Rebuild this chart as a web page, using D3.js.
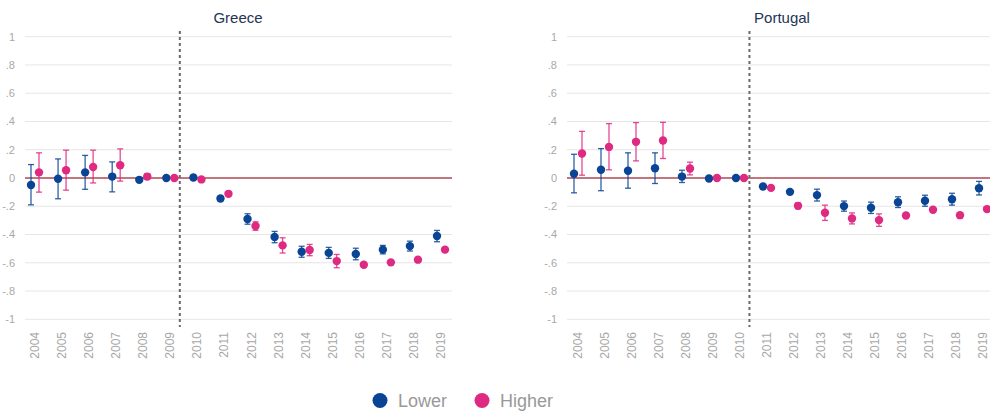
<!DOCTYPE html>
<html>
<head>
<meta charset="utf-8">
<script src="https://cdn.jsdelivr.net/npm/d3@7"></script>
<style>
  html, body { margin: 0; padding: 0; background: #fff; }
  svg { display: block; font-family: "Liberation Sans", Arial, sans-serif; }
</style>
</head>
<body>
<svg id="chart" width="990" height="415"></svg>
<script>
// Event-study estimates by year, with 95% confidence bounds
const years = [2004, 2005, 2006, 2007, 2008, 2009, 2010, 2011, 2012, 2013, 2014, 2015, 2016, 2017, 2018, 2019];
const yTicks = [1, 0.8, 0.6, 0.4, 0.2, 0, -0.2, -0.4, -0.6, -0.8, -1];
const yTickLabels = ["1", ".8", ".6", ".4", ".2", "0", "-.2", "-.4", "-.6", "-.8", "-1"];
const seriesNames = ["Lower", "Higher"];
const countries = ["Greece", "Portugal"];
const breakYears = [2009.35, 2010.35];

const greeceLower   = [-0.05, -0.005, 0.04, 0.01, -0.013, 0, 0.004, -0.145, -0.29, -0.418, -0.522, -0.53, -0.538, -0.507, -0.482, -0.411];
const greeceLowerLo = [-0.19, -0.147, -0.08, -0.098, -0.023, 0, -0.006, -0.16, -0.327, -0.458, -0.561, -0.569, -0.579, -0.537, -0.517, -0.451];
const greeceLowerHi = [0.095, 0.135, 0.16, 0.114, -0.003, 0, 0.014, -0.13, -0.253, -0.378, -0.483, -0.491, -0.497, -0.477, -0.447, -0.371];
const greeceHigher   = [0.04, 0.055, 0.078, 0.09, 0.01, 0, -0.01, -0.112, -0.34, -0.477, -0.51, -0.588, -0.614, -0.597, -0.578, -0.507];
const greeceHigherLo = [-0.10, -0.086, -0.035, -0.022, -0.01, 0, -0.015, -0.122, -0.37, -0.531, -0.55, -0.635, -0.629, -0.605, -0.586, -0.512];
const greeceHigherHi = [0.178, 0.197, 0.197, 0.206, 0.03, 0, -0.005, -0.102, -0.31, -0.423, -0.47, -0.541, -0.599, -0.589, -0.57, -0.502];

const portugalLower   = [0.03, 0.058, 0.051, 0.069, 0.01, -0.004, 0, -0.06, -0.098, -0.121, -0.199, -0.211, -0.171, -0.161, -0.15, -0.072];
const portugalLowerLo = [-0.105, -0.09, -0.072, -0.039, -0.032, -0.019, 0, -0.07, -0.113, -0.163, -0.235, -0.251, -0.209, -0.2, -0.192, -0.12];
const portugalLowerHi = [0.168, 0.208, 0.178, 0.178, 0.055, 0.011, 0, -0.05, -0.083, -0.079, -0.163, -0.171, -0.133, -0.122, -0.108, -0.024];
const portugalHigher   = [0.173, 0.22, 0.256, 0.265, 0.067, 0, 0, -0.07, -0.197, -0.246, -0.286, -0.298, -0.265, -0.225, -0.263, -0.22];
const portugalHigherLo = [0.02, 0.058, 0.121, 0.138, 0.022, 0, 0, -0.078, -0.217, -0.3, -0.325, -0.342, -0.27, -0.23, -0.273, -0.225];
const portugalHigherHi = [0.33, 0.385, 0.392, 0.394, 0.112, 0, 0, -0.062, -0.177, -0.192, -0.247, -0.254, -0.26, -0.22, -0.253, -0.215];

const colors = { Lower: "#0a4595", Higher: "#de2a80" };

const panelData = [
  { name: countries[0], brk: breakYears[0],
    series: [
      { key: "Lower", est: greeceLower, lo: greeceLowerLo, hi: greeceLowerHi },
      { key: "Higher", est: greeceHigher, lo: greeceHigherLo, hi: greeceHigherHi }
    ],
    gridX: [25, 452], yearX: [35, 441], titleX: 238 },
  { name: countries[1], brk: breakYears[1],
    series: [
      { key: "Lower", est: portugalLower, lo: portugalLowerLo, hi: portugalLowerHi },
      { key: "Higher", est: portugalHigher, lo: portugalHigherLo, hi: portugalHigherHi }
    ],
    gridX: [567, 994], yearX: [578, 983], titleX: 782 }
];

const svg = d3.select("#chart");
const y = d3.scaleLinear().domain([-1, 1]).range([319.3, 36.7]);
const offset = { Lower: -4, Higher: 4 };

panelData.forEach(p => {
  const g = svg.append("g");
  const x = d3.scaleLinear().domain([2004, 2019]).range(p.yearX);

  // horizontal grid
  g.append("g").selectAll("line").data(yTicks).join("line")
    .attr("x1", p.gridX[0]).attr("x2", p.gridX[1])
    .attr("y1", d => y(d)).attr("y2", d => y(d))
    .attr("stroke", "#e6e6e6").attr("stroke-width", 1);

  // y tick labels
  g.append("g").selectAll("text").data(yTicks).join("text")
    .attr("x", p.gridX[0] - 10).attr("y", d => y(d)).attr("dy", "0.35em")
    .attr("text-anchor", "end").attr("font-size", 11).attr("fill", "#a8a8a8")
    .text((d, i) => yTickLabels[i]);

  // year labels (rotated)
  g.append("g").selectAll("text").data(years).join("text")
    .attr("transform", d => `translate(${x(d) + 4},332) rotate(-90)`)
    .attr("text-anchor", "end").attr("font-size", 12).attr("fill", "#a8a8a8")
    .text(d => d);

  // zero reference
  g.append("line")
    .attr("x1", p.gridX[0]).attr("x2", p.gridX[1])
    .attr("y1", y(0)).attr("y2", y(0))
    .attr("stroke", "#b24b55").attr("stroke-width", 1.5);

  // policy break
  g.append("line")
    .attr("x1", x(p.brk)).attr("x2", x(p.brk))
    .attr("y1", 31).attr("y2", 327)
    .attr("stroke", "#6a6a6a").attr("stroke-width", 2)
    .attr("stroke-dasharray", "3,3");

  // title
  g.append("text").attr("x", p.titleX).attr("y", 23)
    .attr("text-anchor", "middle").attr("font-size", 15).attr("fill", "#243456")
    .text(p.name);

  p.series.forEach(s => {
    const pts = years.map((yr, i) => ({ yr, est: s.est[i], lo: s.lo[i], hi: s.hi[i] }));
    const c = colors[s.key];
    const sg = g.append("g");
    const xs = d => x(d.yr) + offset[s.key];
    const bars = pts.filter(d => d.hi - d.lo > 0.001);
    sg.selectAll("line.v").data(bars).join("line").attr("class", "v")
      .attr("x1", xs).attr("x2", xs)
      .attr("y1", d => y(d.lo)).attr("y2", d => y(d.hi))
      .attr("stroke", c).attr("stroke-width", 1.3).attr("stroke-opacity", 0.85);
    ["lo", "hi"].forEach(k => {
      sg.selectAll("line.c" + k).data(bars).join("line").attr("class", "c" + k)
        .attr("x1", d => xs(d) - 3).attr("x2", d => xs(d) + 3)
        .attr("y1", d => y(d[k])).attr("y2", d => y(d[k]))
        .attr("stroke", c).attr("stroke-width", 1.3).attr("stroke-opacity", 0.85);
    });
    sg.selectAll("circle").data(pts).join("circle")
      .attr("cx", xs).attr("cy", d => y(d.est)).attr("r", 4.2)
      .attr("fill", c);
  });
});

// legend
const legend = svg.append("g");
const legendX = [380, 482];
seriesNames.forEach((n, i) => {
  legend.append("circle").attr("cx", legendX[i]).attr("cy", 400.5).attr("r", 7.5).attr("fill", colors[n]);
  legend.append("text").attr("x", legendX[i] + 18).attr("y", 400.5).attr("dy", "0.35em")
    .attr("font-size", 18).attr("fill", "#999").text(n);
});
</script>
</body>
</html>
